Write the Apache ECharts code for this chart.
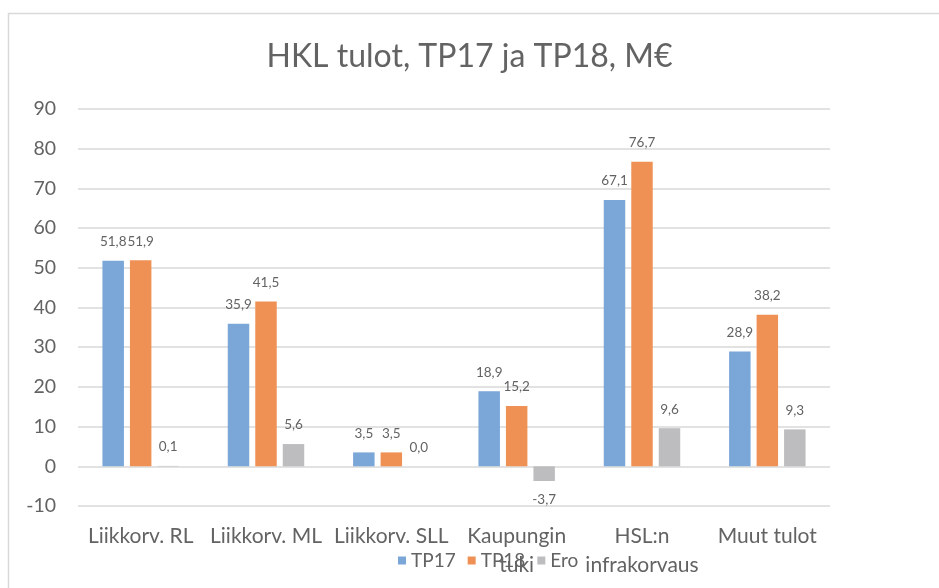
<!DOCTYPE html>
<html>
<head>
<meta charset="utf-8">
<script src="https://cdn.jsdelivr.net/npm/echarts@6/dist/echarts.min.js"></script>
<style>html,body{margin:0;padding:0;background:#fff}#c{width:939px;height:588px}</style>
</head>
<body>
<div id="c"></div>
<script>
var categories = ['Liikkorv. RL', 'Liikkorv. ML', 'Liikkorv. SLL', 'Kaupungin\ntuki', 'HSL:n\ninfrakorvaus', 'Muut tulot'];
var tp17 = [51.8, 35.9, 3.5, 18.9, 67.1, 28.9];
var tp18 = [51.9, 41.5, 3.5, 15.2, 76.7, 38.2];
var ero = [0.1, 5.6, 0.0, -3.7, 9.6, 9.3];
var seriesNames = ['TP17', 'TP18', 'Ero'];
var colors = ['#7aa6d8', '#ef9154', '#bdbdbf'];
var yMin = -10, yMax = 90, yStep = 10;

var FONT = 'Lato, "Open Sans", sans-serif';
var TXT = '#636363';

function toData(arr) {
  return arr.map(function (v) {
    return v < 0 ? { value: v, label: { position: 'bottom' } } : v;
  });
}
function fmt(p) { return p.value.toFixed(1).replace('.', ','); }

var chart = echarts.init(document.getElementById('c'), null, { renderer: 'canvas' });
var allSeries = [tp17, tp18, ero].map(function (arr, i) {
  return {
    name: seriesNames[i],
    type: 'bar',
    data: toData(arr),
    itemStyle: { color: colors[i] },
    barCategoryGap: '39%',
    barGap: '28%',
    label: {
      show: true,
      position: 'top',
      distance: 12,
      formatter: fmt,
      color: TXT,
      fontFamily: FONT,
      fontSize: 13.5
    }
  };
});

chart.setOption({
  animation: false,
  backgroundColor: '#fff',
  color: colors,
  title: {
    text: 'HKL tulot, TP17 ja TP18, M€',
    left: 'center',
    top: 36,
    textStyle: { fontFamily: FONT, fontSize: 32, fontWeight: 'normal', color: TXT }
  },
  legend: {
    data: seriesNames,
    left: 393,
    top: 546,
    itemWidth: 8,
    itemHeight: 8,
    itemGap: 12,
    icon: 'rect',
    textStyle: { fontFamily: FONT, fontSize: 19, color: TXT }
  },
  grid: { left: 78, right: 109, top: 109, bottom: 82, containLabel: false },
  xAxis: {
    type: 'category',
    data: categories,
    axisLine: { show: false, onZero: false },
    axisTick: { show: false },
    axisLabel: { fontFamily: FONT, fontSize: 21, color: TXT, margin: 16, lineHeight: 29, interval: 0 }
  },
  yAxis: {
    type: 'value',
    min: yMin,
    max: yMax,
    interval: yStep,
    axisLine: { show: false },
    axisTick: { show: false },
    splitLine: { lineStyle: { color: '#d9d9d9', width: 1.5 } },
    axisLabel: { fontFamily: FONT, fontSize: 19.5, color: TXT, margin: 22 }
  },
  graphic: [{
    type: 'rect',
    shape: { x: 8.5, y: 13.5, width: 1000, height: 1000 },
    style: { fill: 'none', stroke: '#d9d9d9', lineWidth: 1.5 },
    silent: true,
    z: -1
  }],
  series: allSeries
});
</script>
</body>
</html>
